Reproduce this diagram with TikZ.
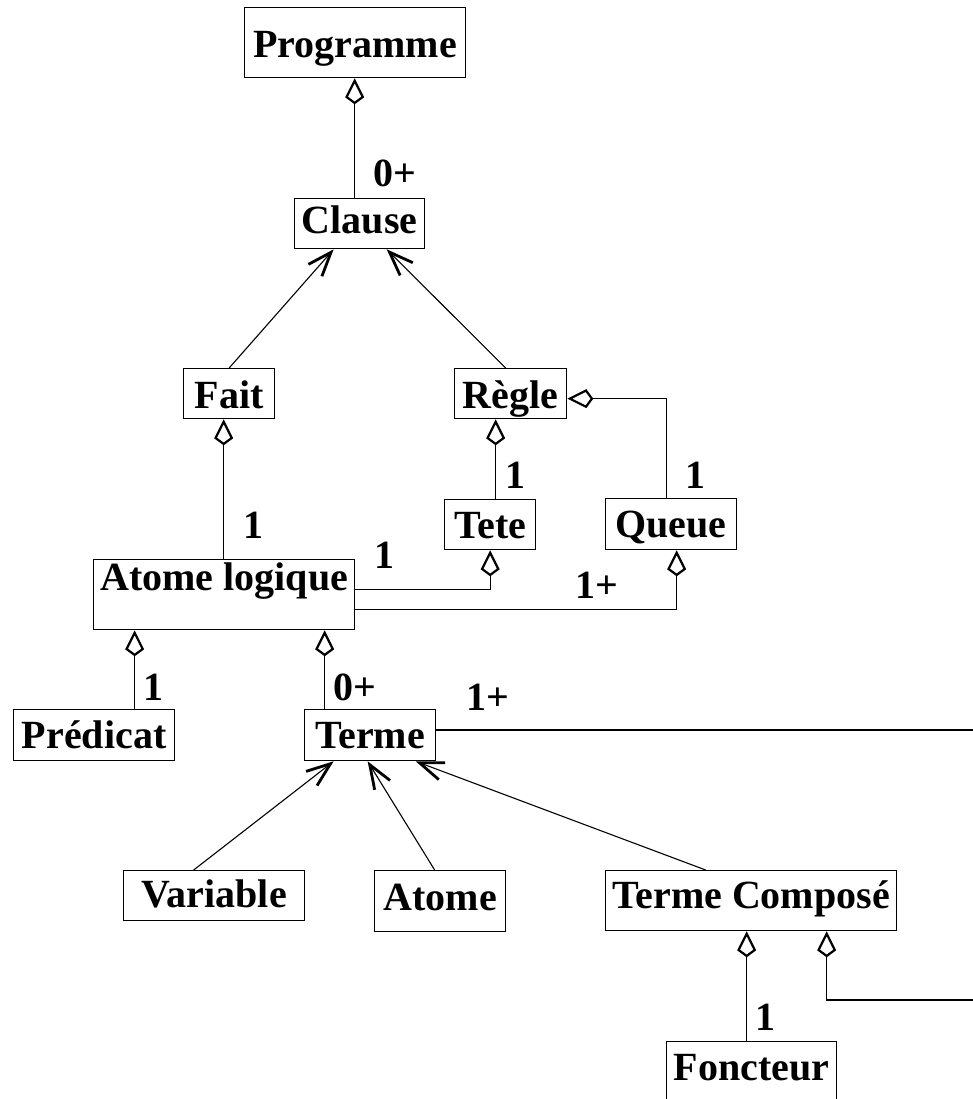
\documentclass[tikz,border=0pt]{standalone}
\usepackage{fontspec}
\setmainfont{Liberation Serif}
\usetikzlibrary{arrows.meta}
\tikzset{
  txt/.style={font=\bfseries\fontsize{40}{40}\selectfont},
  box/.style={txt, draw, line width=1.3pt, inner sep=0pt, anchor=north west},
  lbl/.style={txt, anchor=base, inner sep=0pt},
  conn/.style={line width=1.1pt},
  agg/.style={conn, {Kite[open, length=26pt, width=19pt, inset=7pt, line width=2.2pt]}-},
  gen/.style={conn, -{Straight Barb[length=24pt, width=18pt, line width=2.8pt]}},
}
\begin{document}
\begin{tikzpicture}[x=1pt, y=-1pt]
\useasboundingbox (0,0) rectangle (973,1099);
% classes
\node[box, minimum width=221pt, text height=50pt, text depth=20pt] (prog) at (244,7) {Programme};
\node[box, minimum width=130pt, text height=35pt, text depth=15pt] (clause) at (294,198) {Clause};
\node[box, minimum width=91pt, text height=40pt, text depth=10pt] (fait) at (183,368) {Fait};
\node[box, minimum width=112pt, text height=40pt, text depth=10pt] (regle) at (454,368) {Règle};
\node[box, minimum width=91pt, text height=39pt, text depth=11pt] (tete) at (444,499) {Tete};
\node[box, minimum width=131pt, text height=39pt, text depth=12pt] (queue) at (605,498) {Queue};
\node[box, minimum width=261pt, text height=31pt, text depth=39pt] (atl) at (93,559) {Atome logique};
\node[box, minimum width=161pt, text height=39pt, text depth=12pt] (pred) at (13,709) {Prédicat};
\node[box, minimum width=131pt, text height=39pt, text depth=12pt] (terme) at (304,709) {Terme};
\node[box, minimum width=181pt, text height=37pt, text depth=13pt] (var) at (123,870) {Variable};
\node[box, minimum width=131pt, text height=40pt, text depth=21pt] (atome) at (374,870) {Atome};
\node[box, minimum width=291pt, text height=38pt, text depth=22pt] (tc) at (605,870) {Terme Composé};
\node[box, minimum width=170pt, text height=39pt, text depth=31pt] (fonc) at (666,1041) {Foncteur};
% free ends at the right edge
\coordinate (edgeT) at (985,730);
\coordinate (edgeC) at (985,1000);
% aggregations
\draw[agg] ([xshift=-0.5pt]prog.south) -- ([xshift=-0.5pt]prog.south |- clause.north);
\draw[agg] ([xshift=-5.5pt]fait.south) -- ([xshift=-5.5pt]fait.south |- atl.north);
\draw[agg] ([xshift=-15pt]regle.south) -- ([xshift=-15pt]regle.south |- tete.north);
\draw[agg] (tete.south) |- ([yshift=5pt]atl.east);
\draw[agg] ([xshift=5.5pt]queue.south) |- ([yshift=-15pt]atl.east);
\draw[agg] ([yshift=-5pt]regle.east) -| ([xshift=-4.5pt]queue.north);
\draw[agg] ([xshift=-89.5pt]atl.south) -- ([xshift=-89.5pt]atl.south |- pred.north);
\draw[agg] ([xshift=100.5pt]atl.south) -- ([xshift=100.5pt]atl.south |- terme.north);
\draw[agg] ([xshift=-4.5pt]tc.south) -- ([xshift=-4.5pt]tc.south |- fonc.north);
\draw[agg] ([xshift=75.5pt]tc.south) |- (edgeC);
\draw[conn] (terme.east |- edgeT) -- (edgeT);
% generalisations
\draw[gen] (fait.north) -- ([xshift=-26pt]clause.south);
\draw[gen] ([xshift=-5pt]regle.north) -- ([xshift=27pt]clause.south);
\draw[gen] ([xshift=-20.5pt]var.north) -- ([xshift=-36.5pt]terme.south);
\draw[gen] ([xshift=-5.5pt]atome.north) -- ([xshift=-2.5pt]terme.south);
\draw[gen] ([xshift=-45.5pt]tc.north) -- ([xshift=45.5pt]terme.south);
% multiplicities
\node[lbl] (m1) at (394.5,187) {0+};
\node[lbl] (m2) at (253.5,538) {1};
\node[lbl] (m3) at (384.5,568) {1};
\node[lbl] (m4) at (515,488) {1};
\node[lbl] (m5) at (695.5,488) {1};
\node[lbl] (m6) at (597,598) {1+};
\node[lbl] (m7) at (153.5,700) {1};
\node[lbl] (m8) at (355,700) {0+};
\node[lbl] (m9) at (488,710) {1+};
\node[lbl] (m10) at (765,1030) {1};
\end{tikzpicture}
\end{document}
